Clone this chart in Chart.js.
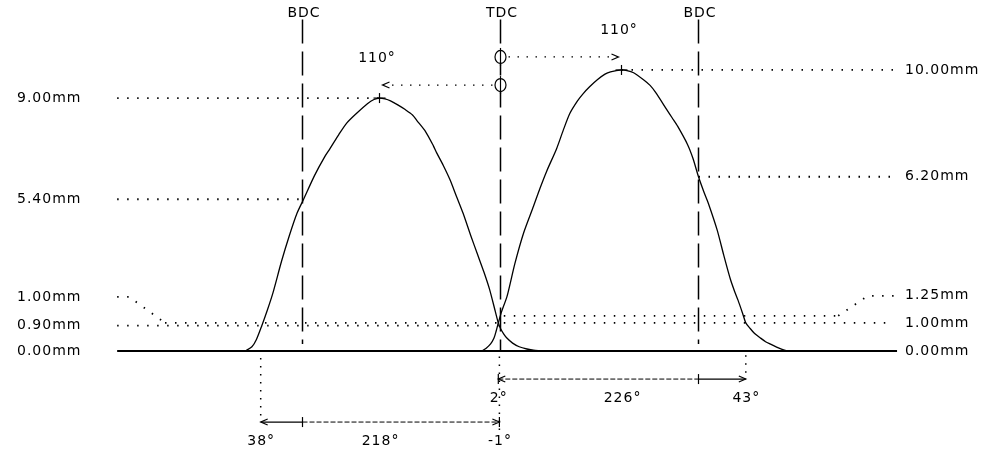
<!DOCTYPE html>
<html>
<head>
<meta charset="utf-8">
<script src="https://cdn.jsdelivr.net/npm/chart.js@4/dist/chart.umd.min.js"></script>
<style>
  html, body { margin: 0; background: #fff; }
  #wrap { width: 1001px; height: 451px; }
</style>
</head>
<body>
<div id="wrap"><canvas id="cam" width="1001" height="451"></canvas></div>
<script>
/* Valve timing diagram — crank angle in degrees relative to TDC (negative = before TDC) */

// exhaust lift curve (mm)
const exhaustDeg  = [-232, -226, -222, -217, -212, -207, -199, -192, -185, -179, -169, -160, -155, -147, -140, -131, -121, -115, -110, -105, -100, -93, -87, -80, -76, -68, -61, -58, -52, -46, -40, -34, -27, -21, -15, -10, -5, -2, 0, 3, 6, 11, 17, 24, 30, 36];
const exhaustLift = [0, 0.15, 0.4, 0.9, 1.45, 2.05, 3.2, 4.1, 4.9, 5.4, 6.25, 6.9, 7.2, 7.7, 8.1, 8.45, 8.8, 8.95, 9.0, 8.97, 8.9, 8.75, 8.6, 8.4, 8.2, 7.8, 7.3, 7.05, 6.6, 6.1, 5.5, 4.9, 4.1, 3.45, 2.8, 2.2, 1.45, 1.0, 0.8, 0.6, 0.45, 0.28, 0.15, 0.07, 0.03, 0];

// intake lift curve (mm)
const intakeDeg  = [-17, -13, -9, -6, -4, -2, 1, 6, 13, 21, 30, 36, 42, 51, 57, 63, 70, 75, 81, 88, 95, 100, 110, 115, 121, 130, 136, 141, 151, 156, 161, 170, 175, 180, 185, 189, 197, 203, 209, 213, 216, 220, 223, 227, 231, 236, 241, 245, 251, 256, 261];
const intakeLift = [0, 0.1, 0.25, 0.45, 0.7, 1.0, 1.4, 1.95, 3.1, 4.2, 5.15, 5.8, 6.4, 7.2, 7.85, 8.45, 8.9, 9.15, 9.4, 9.65, 9.85, 9.93, 10.0, 9.98, 9.9, 9.65, 9.45, 9.2, 8.6, 8.3, 8.0, 7.35, 6.85, 6.2, 5.65, 5.25, 4.3, 3.4, 2.55, 2.1, 1.8, 1.35, 1.0, 0.8, 0.62, 0.47, 0.33, 0.25, 0.14, 0.06, 0];

const deadCentreDeg   = [-180, 0, 180];
const deadCentreNames = ['BDC', 'TDC', 'BDC'];

const peakDeg   = [-110, 110];       // exhaust, intake
const peakLift  = [9.00, 10.00];
const peakLabel = ['110°', '110°'];

// exhaust open, exhaust close, intake open, intake close
const eventDeg    = [-218, -1, -2, 223];
const eventLabels = ['38°', '-1°', '2°', '43°'];
const durationLabels = ['218°', '226°'];   // exhaust, intake

const leftLift  = [9.00, 5.40, 1.00, 0.90, 0.00];
const rightLift = [10.00, 6.20, 1.25, 1.00, 0.00];

const axisFrom = -348.5, axisTo = 360.5;   // extent of the lift reference lines

const X_MIN = -455, X_MAX = 455, Y_MIN = -3.56, Y_MAX = 12.49;

const pts = (xs, ys) => xs.map((v, i) => ({ x: v, y: ys[i] }));
const seg = (x0, y0, x1, y1) => [{ x: x0, y: y0 }, { x: x1, y: y1 }];

const DOT = [1.5, 8.5];
const line = (data, extra = {}) => Object.assign({
  data, showLine: true, borderColor: '#000', borderWidth: 1, pointRadius: 0, tension: 0, fill: false
}, extra);
const dotted = (data) => line(data, { borderDash: DOT, borderWidth: 1.8 });

const datasets = [
  line(pts(exhaustDeg, exhaustLift), { tension: 0.25, borderWidth: 1.3 }),
  line(pts(intakeDeg, intakeLift), { tension: 0.25, borderWidth: 1.3 }),
  // base line
  line(seg(axisFrom, 0, axisTo, 0), { borderWidth: 2 }),
  // dotted lift references, left side
  dotted(seg(axisFrom, leftLift[0], peakDeg[0], leftLift[0])),
  dotted(seg(axisFrom, leftLift[1], deadCentreDeg[0], leftLift[1])),
  dotted(seg(axisFrom, leftLift[3], deadCentreDeg[1], leftLift[3])),
  dotted(seg(-305, leftLift[2], deadCentreDeg[1], leftLift[2])),
  // dotted lift references, right side
  dotted(seg(peakDeg[1], rightLift[0], axisTo - 2, rightLift[0])),
  dotted(seg(deadCentreDeg[2], rightLift[1], axisTo - 2, rightLift[1])),
  dotted(seg(3, rightLift[2], 307, rightLift[2])),
  dotted(seg(3, rightLift[3], axisTo - 6, rightLift[3])),
  // dead centre markers
  ...deadCentreDeg.map((d, i) => line(seg(d, 11.8, d, i === 1 ? 0 : 0.25), { borderDash: [24, 8], borderWidth: 1.5 })),
  // event drop lines below the base line
  line(seg(eventDeg[0], -0.25, eventDeg[0], -2.4), { borderDash: [1.5, 6.5], borderWidth: 1.5 }),
  line(seg(eventDeg[1], -0.2, eventDeg[1], -3.0), { borderDash: [1.5, 6.5], borderWidth: 1.5 }),
  line(seg(eventDeg[3], -0.15, eventDeg[3], -0.8), { borderDash: [1.5, 6.5], borderWidth: 1.5 }),
  // intake duration arrow
  line(seg(eventDeg[2], -1.0, deadCentreDeg[2], -1.0), { borderDash: [5, 2] }),
  line(seg(deadCentreDeg[2], -1.0, eventDeg[3], -1.0), { borderWidth: 1.3 }),
  // exhaust duration arrow
  line(seg(eventDeg[0], -2.53, deadCentreDeg[0], -2.53), { borderWidth: 1.3 }),
  line(seg(deadCentreDeg[0], -2.53, eventDeg[1], -2.53), { borderDash: [5, 2] }),
];

const extras = {
  id: 'extras',
  afterDatasetsDraw(chart) {
    const { ctx, scales: { x, y } } = chart;
    const px = v => x.getPixelForValue(v), py = v => y.getPixelForValue(v);
    ctx.save();
    ctx.strokeStyle = '#000';
    ctx.fillStyle = '#000';
    ctx.lineWidth = 1.2;
    ctx.font = '14px "DejaVu Sans", Verdana, sans-serif';
    ctx.letterSpacing = '1px';
    ctx.textBaseline = 'middle';

    const stroke = (pairs, dash = []) => {
      ctx.setLineDash(dash);
      ctx.beginPath();
      ctx.moveTo(pairs[0][0], pairs[0][1]);
      pairs.slice(1).forEach(p => ctx.lineTo(p[0], p[1]));
      ctx.stroke();
      ctx.setLineDash([]);
    };
    const head = (tx, ty, dir) => stroke([[tx - dir * 7, ty - 3], [tx, ty], [tx - dir * 7, ty + 3]]);
    const tick = (tx, ty) => stroke([[tx, ty - 5], [tx, ty + 5]]);
    // letterSpacing adds trailing space, shift centred text by half of it
    const text = (s, tx, ty, align = 'center') => {
      ctx.textAlign = align;
      ctx.fillText(s, align === 'center' ? tx + 0.5 : tx, ty);
    };

    // dead centre names
    deadCentreDeg.forEach((d, i) => text(deadCentreNames[i], px(d) + 1, 13));

    // peak markers and angle arrows from TDC
    const tdcX = px(deadCentreDeg[1]);
    peakDeg.forEach((d, i) => {
      const cx = px(d), cy = py(peakLift[i]);
      stroke([[cx - 6, cy], [cx + 6, cy]]);
      stroke([[cx, cy - 5], [cx, cy + 5]]);
      const ay = cy - 13, dir = Math.sign(d);
      stroke([[tdcX + dir * 8, ay], [cx - dir * 3, ay]], [1.5, 7.5]);
      head(cx - dir * 3, ay, dir);
      // phi marker on TDC line
      ctx.beginPath();
      ctx.ellipse(tdcX, ay, 5.5, 6.5, 0, 0, Math.PI * 2);
      ctx.fillStyle = '#fff'; ctx.fill(); ctx.fillStyle = '#000';
      ctx.stroke();
      stroke([[tdcX, ay - 9], [tdcX, ay + 9]]);
      text(peakLabel[i], cx - 3, ay - 27);
    });

    // duration arrow heads, ticks, labels
    const iy = py(-1.0), ey = py(-2.53);
    head(px(eventDeg[2]), iy, -1); tick(px(eventDeg[2]), iy);
    tick(px(deadCentreDeg[2]), iy); head(px(eventDeg[3]), iy, 1);
    head(px(eventDeg[0]), ey, -1); tick(px(deadCentreDeg[0]), ey);
    head(px(eventDeg[1]), ey, 1); tick(px(eventDeg[1]), ey);
    text(eventLabels[2], px(eventDeg[2]), iy + 19);
    text(durationLabels[1], (px(eventDeg[2]) + px(eventDeg[3])) / 2, iy + 19);
    text(eventLabels[3], px(eventDeg[3]), iy + 19);
    text(eventLabels[0], px(eventDeg[0]), ey + 19);
    text(durationLabels[0], (px(eventDeg[0]) + px(eventDeg[1])) / 2, ey + 19);
    text(eventLabels[1], px(eventDeg[1]), ey + 19);

    // leaders for the crowded labels
    ctx.lineWidth = 1.8;
    const lx0 = px(axisFrom), rx1 = px(axisTo);
    const ly = py(leftLift[2]) - 26;
    stroke([[lx0, ly], [lx0 + 12, ly], [px(-305), py(leftLift[2])]], DOT);
    const ry = py(rightLift[2]) - 20;
    stroke([[px(307), py(rightLift[2])], [px(334), ry], [rx1 - 2, ry]], DOT);

    // lift labels
    leftLift.forEach((v, i) => text(v.toFixed(2) + 'mm', 17, i === 2 ? ly : py(v), 'left'));
    rightLift.forEach((v, i) => text(v.toFixed(2) + 'mm', 905, i === 2 ? ry : py(v), 'left'));

    ctx.restore();
  }
};

new Chart(document.getElementById('cam'), {
  type: 'scatter',
  data: { datasets },
  options: {
    responsive: false,
    animation: false,
    layout: { padding: 0 },
    plugins: { legend: { display: false }, tooltip: { enabled: false } },
    scales: {
      x: { type: 'linear', min: X_MIN, max: X_MAX, display: false },
      y: { type: 'linear', min: Y_MIN, max: Y_MAX, display: false }
    }
  },
  plugins: [extras]
});
</script>
</body>
</html>
